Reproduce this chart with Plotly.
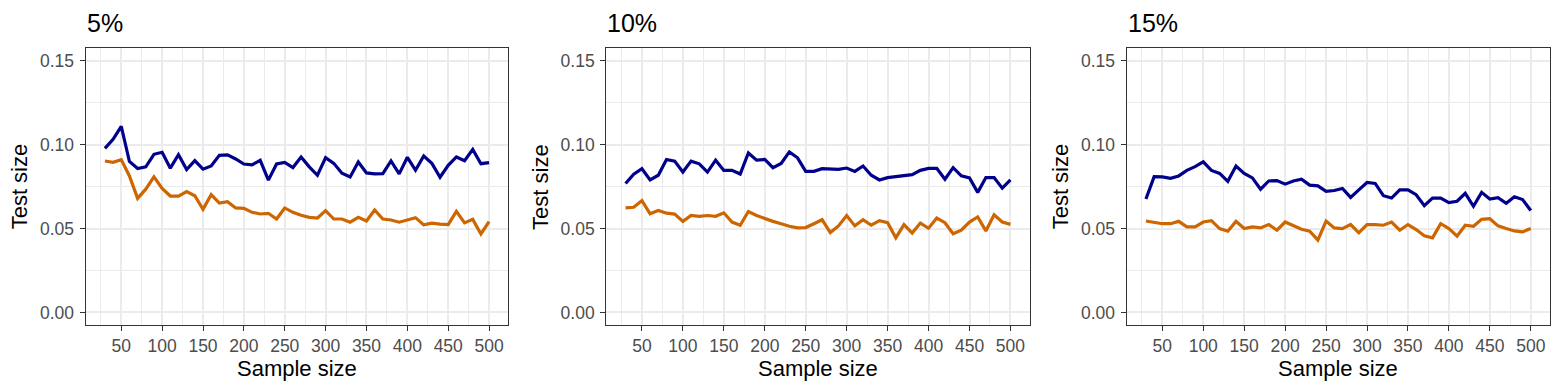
import plotly.graph_objects as go

# Test size vs sample size, three contamination levels
sample_size = list(range(30, 501, 10))
panel_titles = ["5%", "10%", "15%"]

blue_5 = [0.0978, 0.1032, 0.1110, 0.0900, 0.0858, 0.0868, 0.0943, 0.0955, 0.0860, 0.0940,
          0.0852, 0.0905, 0.0854, 0.0874, 0.0937, 0.0940, 0.0915, 0.0885, 0.0880, 0.0907,
          0.0789, 0.0885, 0.0895, 0.0864, 0.0927, 0.0868, 0.0818, 0.0923, 0.0889, 0.0830,
          0.0808, 0.0897, 0.0832, 0.0826, 0.0828, 0.0903, 0.0826, 0.0925, 0.0848, 0.0933,
          0.0889, 0.0806, 0.0877, 0.0927, 0.0905, 0.0972, 0.0887, 0.0893]
orange_5 = [0.0903, 0.0895, 0.0911, 0.0814, 0.0680, 0.0735, 0.0808, 0.0739, 0.0694, 0.0694,
            0.0721, 0.0696, 0.0615, 0.0702, 0.0652, 0.0660, 0.0623, 0.0621, 0.0597, 0.0587,
            0.0591, 0.0557, 0.0623, 0.0597, 0.0579, 0.0567, 0.0563, 0.0607, 0.0557, 0.0557,
            0.0538, 0.0567, 0.0545, 0.0611, 0.0557, 0.0551, 0.0538, 0.0551, 0.0565, 0.0522,
            0.0532, 0.0526, 0.0524, 0.0603, 0.0534, 0.0555, 0.0468, 0.0541]

blue_10 = [0.0769, 0.0824, 0.0857, 0.0790, 0.0818, 0.0912, 0.0902, 0.0837, 0.0902, 0.0886,
           0.0837, 0.0908, 0.0847, 0.0847, 0.0825, 0.0951, 0.0908, 0.0912, 0.0863, 0.0888,
           0.0957, 0.0922, 0.0841, 0.0841, 0.0857, 0.0855, 0.0853, 0.0861, 0.0841, 0.0873,
           0.0818, 0.0790, 0.0804, 0.0810, 0.0816, 0.0822, 0.0847, 0.0859, 0.0859, 0.0794,
           0.0863, 0.0814, 0.0802, 0.0716, 0.0804, 0.0804, 0.0741, 0.0790]
orange_10 = [0.0624, 0.0627, 0.0667, 0.0588, 0.0608, 0.0592, 0.0586, 0.0543, 0.0578, 0.0573,
             0.0578, 0.0573, 0.0594, 0.0539, 0.0520, 0.0602, 0.0578, 0.0559, 0.0543, 0.0529,
             0.0514, 0.0504, 0.0506, 0.0529, 0.0553, 0.0476, 0.0516, 0.0578, 0.0516, 0.0553,
             0.0520, 0.0547, 0.0535, 0.0445, 0.0524, 0.0473, 0.0533, 0.0502, 0.0563, 0.0535,
             0.0469, 0.0490, 0.0539, 0.0569, 0.0486, 0.0582, 0.0539, 0.0525]

blue_15 = [0.0676, 0.0810, 0.0808, 0.0800, 0.0814, 0.0847, 0.0869, 0.0898, 0.0847, 0.0829,
           0.0782, 0.0873, 0.0829, 0.0802, 0.0735, 0.0784, 0.0786, 0.0765, 0.0784, 0.0794,
           0.0759, 0.0755, 0.0722, 0.0727, 0.0739, 0.0686, 0.0731, 0.0775, 0.0769, 0.0696,
           0.0682, 0.0731, 0.0731, 0.0702, 0.0637, 0.0682, 0.0682, 0.0655, 0.0663, 0.0710,
           0.0633, 0.0716, 0.0676, 0.0684, 0.0651, 0.0690, 0.0673, 0.0608]
orange_15 = [0.0545, 0.0539, 0.0529, 0.0529, 0.0543, 0.0510, 0.0510, 0.0539, 0.0547, 0.0500,
             0.0484, 0.0543, 0.0500, 0.0510, 0.0504, 0.0524, 0.0490, 0.0539, 0.0520, 0.0496,
             0.0484, 0.0431, 0.0545, 0.0504, 0.0500, 0.0524, 0.0475, 0.0524, 0.0524, 0.0520,
             0.0539, 0.0490, 0.0524, 0.0494, 0.0457, 0.0445, 0.0529, 0.0500, 0.0455, 0.0520,
             0.0514, 0.0555, 0.0559, 0.0516, 0.0500, 0.0486, 0.0480, 0.0500]

BLUE = "#00008B"
ORANGE = "#CD6600"
FONT = "Liberation Sans, Arial, sans-serif"

# the page body has an 8px margin, so the figure sits at (8, 8)
OFF = 8
W, H = 1563 - 2 * OFF, 392 - 2 * OFF

# panel left/right edges and plot top/bottom, in page px
panels_px = [(85.7, 508.3), (606.3, 1029.7), (1126.7, 1550.0)]
top_px, bot_px = 48.3, 325.0


def px_x(x):
    return (x - OFF) / W


def px_y(y):
    return (H - (y - OFF)) / H


ydom = [px_y(bot_px), px_y(top_px)]

fig = go.Figure()
series = [(blue_5, orange_5), (blue_10, orange_10), (blue_15, orange_15)]

for i, (blue, orange) in enumerate(series):
    n = "" if i == 0 else str(i + 1)
    for vals, col in [(orange, ORANGE), (blue, BLUE)]:
        fig.add_trace(go.Scatter(x=sample_size, y=vals, mode="lines",
                                 line=dict(color=col, width=3.2),
                                 xaxis="x" + n, yaxis="y" + n, showlegend=False))

    l, r = panels_px[i]
    axis_common = dict(showline=True, mirror=True, linecolor="#333333", linewidth=1.3,
                       ticks="outside", ticklen=5, tickwidth=1.3, tickcolor="#333333",
                       showgrid=True, gridcolor="#EBEBEB", gridwidth=2, zeroline=False,
                       tickfont=dict(family=FONT, size=17.5, color="#4D4D4D"))
    fig.layout["xaxis" + n] = dict(axis_common, domain=[px_x(l), px_x(r)], range=[6.5, 523.5],
                                   tick0=0, dtick=50, anchor="y" + n, ticklabelstandoff=0,
                                   minor=dict(showgrid=True, dtick=25, tick0=0,
                                              gridcolor="#EBEBEB", gridwidth=1))
    fig.layout["yaxis" + n] = dict(axis_common, domain=ydom, range=[-0.0075, 0.1575],
                                   tick0=0, dtick=0.05, tickformat=".2f", anchor="x" + n,
                                   ticklabelstandoff=2,
                                   minor=dict(showgrid=True, dtick=0.025, tick0=0,
                                              gridcolor="#EBEBEB", gridwidth=1))

    # panel title
    fig.add_annotation(text=panel_titles[i], x=px_x(l - 1), y=px_y(22.5),
                       xref="paper", yref="paper", xanchor="left", yanchor="middle",
                       showarrow=False, font=dict(family=FONT, size=25, color="black"))
    # x axis title
    fig.add_annotation(text="Sample size", x=px_x((l + r) / 2), y=px_y(368),
                       xref="paper", yref="paper", xanchor="center", yanchor="middle",
                       showarrow=False, font=dict(family=FONT, size=22, color="black"))
    # y axis title
    fig.add_annotation(text="Test size", x=px_x(l - 66), y=px_y((top_px + bot_px) / 2),
                       xref="paper", yref="paper", xanchor="center", yanchor="middle",
                       textangle=-90, showarrow=False,
                       font=dict(family=FONT, size=22, color="black"))

fig.update_layout(width=W, height=H, margin=dict(l=0, r=0, t=0, b=0),
                  paper_bgcolor="white", plot_bgcolor="white")

fig.write_html("out.html")
